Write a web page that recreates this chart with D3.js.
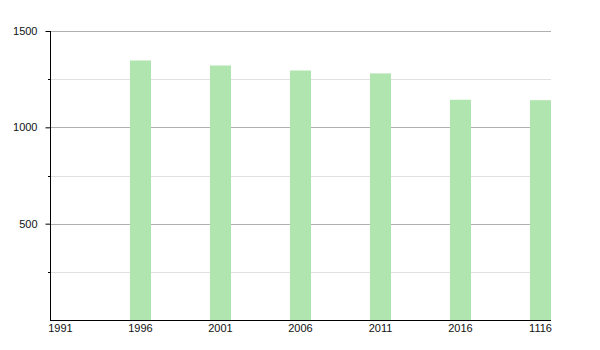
<!DOCTYPE html>
<html><head><meta charset="utf-8">
<script src="https://cdn.jsdelivr.net/npm/d3@7"></script>
<style>body{margin:0;background:#fff}svg{display:block}text{font-family:"Liberation Sans",Arial,sans-serif;font-size:11px;fill:#111}</style>
</head><body><svg id="c" width="600" height="350"></svg>
<script>
const categories = ["1991","1996","2001","2006","2011","2016","1116"];
const values = [0, 1347, 1321, 1295, 1280, 1143, 1141];
const majorTicks = [500, 1000, 1500];
const minorTicks = [250, 750, 1250];

(function(){
const svg = d3.select("#c");
const mLeft = 50, mRight = 551, mTop = 31, mBottom = 320, barW = 21;
const y = d3.scaleLinear().domain([0,1500]).range([mBottom, mTop]);
const x = d3.scaleLinear().domain([0, categories.length-1]).range([mLeft, mRight - barW]);

svg.append("g").selectAll("line").data(minorTicks).join("line")
  .attr("x1", mLeft).attr("x2", mRight).attr("y1", d=>Math.round(y(d))+0.5).attr("y2", d=>Math.round(y(d))+0.5)
  .attr("stroke", "#e0e0e0");
svg.append("g").selectAll("line").data(majorTicks).join("line")
  .attr("x1", mLeft).attr("x2", mRight).attr("y1", d=>Math.round(y(d))+0.5).attr("y2", d=>Math.round(y(d))+0.5)
  .attr("stroke", "#b0b0b0");

svg.append("g").selectAll("rect").data(values).join("rect")
  .attr("x", (d,i)=>x(i)).attr("width", barW)
  .attr("y", d=>y(d)).attr("height", d=>mBottom - y(d))
  .attr("fill", "#b1e5b0");

const yAxis = d3.axisLeft(y).tickValues(majorTicks).tickSize(5).tickPadding(8).tickFormat(d3.format("d"));
const gy = svg.append("g").attr("transform", `translate(${mLeft+0.5},0)`).call(yAxis);
gy.select(".domain").remove();
gy.selectAll(".tick line").attr("stroke", "#000");
gy.selectAll("text").style("font-size","11px").attr("fill","#111").attr("font-family",null);
svg.append("g").selectAll("line").data(minorTicks).join("line")
  .attr("x1", mLeft-2).attr("x2", mLeft).attr("y1", d=>Math.round(y(d))+0.5).attr("y2", d=>Math.round(y(d))+0.5)
  .attr("stroke", "#000");
svg.append("line").attr("x1", mLeft+0.5).attr("x2", mLeft+0.5).attr("y1", mTop).attr("y2", mBottom+1).attr("stroke","#000");
svg.append("line").attr("x1", mLeft).attr("x2", mRight).attr("y1", mBottom+0.5).attr("y2", mBottom+0.5).attr("stroke","#000");

svg.append("g").selectAll("text").data(categories).join("text")
  .attr("x", (d,i)=>x(i) + barW/2).attr("y", mBottom + 12)
  .attr("text-anchor","middle").text(d=>d);
})();
</script></body></html>
